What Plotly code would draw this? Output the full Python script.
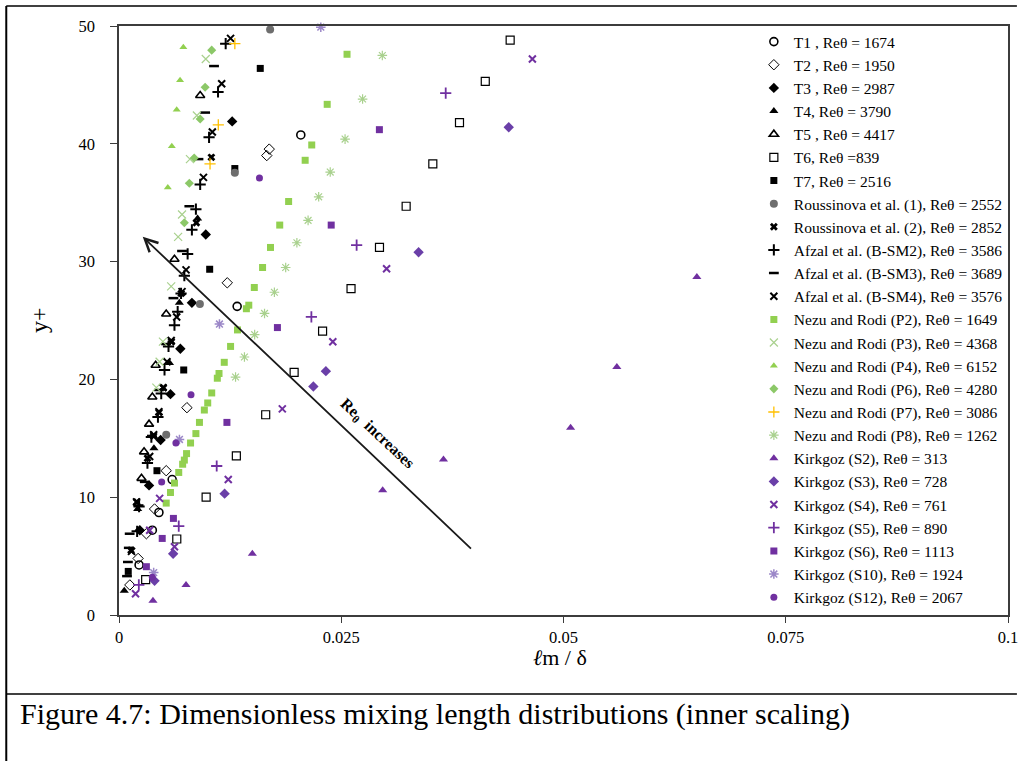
import plotly.graph_objects as go

# ---------------- data ----------------
T1_x = [0.00226, 0.00375, 0.00449, 0.00598, 0.01329, 0.02045]
T1_y = [4.25, 7.2, 8.7, 11.5, 26.2, 40.75]
T2_x = [0.00122, 0.00215, 0.00308, 0.0040, 0.00531, 0.00764, 0.01218, 0.01662, 0.0169]
T2_y = [2.55, 4.8, 6.9, 9.0, 12.25, 17.6, 28.2, 39.0, 39.55]
T3_x = [0.00234, 0.00338, 0.00468, 0.00579, 0.0069, 0.0082, 0.00976, 0.01273]
T3_y = [7.2, 11.0, 14.85, 18.75, 22.6, 26.5, 32.3, 41.9]
T4_x = [0.00059, 0.0021, 0.00393, 0.00568, 0.00679, 0.00884]
T4_y = [2.06, 9.0, 14.15, 21.4, 26.5, 33.65]
T5_x = [0.00253, 0.00282, 0.00338, 0.00375, 0.00412, 0.00531, 0.00624, 0.00913]
T5_y = [11.6, 13.85, 16.2, 18.5, 21.2, 25.55, 30.2, 44.1]
T6_x = [0.0030, 0.0065, 0.0098, 0.0132, 0.0165, 0.0197, 0.0229, 0.0261, 0.0293, 0.0323, 0.0353, 0.0383, 0.0412, 0.0440]
T6_y = [3.0, 6.45, 10.0, 13.5, 17.0, 20.6, 24.1, 27.7, 31.2, 34.7, 38.3, 41.8, 45.3, 48.8]
T7_x = [0.00104, 0.00427, 0.00728, 0.0102, 0.01303, 0.01589]
T7_y = [3.7, 12.25, 20.8, 29.35, 37.9, 46.4]
R1_x = [0.00531, 0.0091, 0.01303, 0.017]
R1_y = [15.3, 26.4, 37.55, 49.7]
R2_x = [0.00136, 0.0020, 0.0032, 0.0039, 0.0045, 0.0050, 0.0059, 0.0070, 0.0087, 0.01039]
R2_y = [5.5, 9.6, 13.3, 15.2, 17.2, 19.3, 23.2, 27.3, 33.3, 38.85]
SM2_x = [0.00204, 0.00226, 0.0032, 0.00364, 0.00438, 0.00475, 0.00512, 0.00557, 0.00624, 0.0066,
         0.00698, 0.00735, 0.00772, 0.0082, 0.00865, 0.00913, 0.01013, 0.01114, 0.012]
SM2_y = [7.1, 9.2, 12.9, 15.1, 16.8, 18.8, 20.8, 22.8, 24.6, 25.75,
         27.3, 28.8, 30.65, 32.7, 34.45, 36.55, 40.55, 44.4, 48.5]
SM3_x = [0.0009, 0.001, 0.0011, 0.0012, 0.0022, 0.0029, 0.0037, 0.0045, 0.0053, 0.00612,
         0.00709, 0.00791, 0.00894, 0.00969, 0.01069]
SM3_y = [3.3, 4.5, 5.7, 6.9, 9.3, 11.3, 15.2, 19.1, 23.0, 26.9, 30.9, 34.7, 38.7, 42.65, 46.6]
SM4_x = [0.00141, 0.00197, 0.00345, 0.0039, 0.00449, 0.00494, 0.0054, 0.00587, 0.00649, 0.00709,
         0.00754, 0.0095, 0.0105, 0.01155, 0.01255]
SM4_y = [5.4, 9.6, 13.45, 15.3, 17.25, 19.3, 21.5, 23.3, 25.3, 27.45, 29.3, 37.15, 41.0, 45.1, 48.95]
P2_x = [0.00531, 0.00579, 0.00624, 0.00672, 0.00716, 0.00735, 0.0076, 0.00805, 0.00865, 0.00905,
        0.0096, 0.00998, 0.01043, 0.01106, 0.01125, 0.01184, 0.01255, 0.01333, 0.01433, 0.0146,
        0.01522, 0.01615, 0.01704, 0.01808, 0.01908, 0.02094, 0.02168, 0.02342, 0.02565]
P2_y = [9.5, 10.4, 11.2, 12.1, 12.8, 13.15, 13.7, 14.6, 15.4, 16.35,
        17.4, 18.0, 18.85, 20.1, 20.5, 21.45, 22.8, 24.2, 26.0, 26.3,
        27.8, 29.5, 31.2, 33.1, 35.1, 38.6, 39.9, 43.35, 47.6]
P3_x = [0.0042, 0.00457, 0.00494, 0.00587, 0.00665, 0.00709, 0.00798, 0.00876, 0.00976]
P3_y = [19.3, 21.5, 23.2, 27.9, 32.1, 34.0, 38.7, 42.4, 47.2]
P4_x = [0.00549, 0.00594, 0.00649, 0.00687, 0.00724]
P4_y = [36.3, 39.8, 42.9, 45.4, 48.2]
P6_x = [0.00735, 0.00791, 0.00846, 0.00913, 0.00969, 0.01043]
P6_y = [33.3, 36.65, 38.8, 42.1, 44.8, 47.95]
P7_x = [0.01024, 0.01117, 0.01303]
P7_y = [38.3, 41.6, 48.5]
P8_x = [0.01311, 0.01411, 0.01526, 0.01637, 0.01748, 0.01875, 0.02001, 0.02127, 0.02246, 0.02376,
        0.02543, 0.0274, 0.02962]
P8_y = [20.2, 21.9, 23.8, 25.6, 27.4, 29.5, 31.6, 33.5, 35.5, 37.6, 40.4, 43.8, 47.5]
S2_x = [0.00382, 0.00754, 0.0150, 0.02966, 0.0365, 0.0508, 0.056, 0.065]
S2_y = [1.2, 2.55, 5.2, 10.6, 13.2, 15.9, 21.05, 28.7]
S3_x = [0.0040, 0.00609, 0.01188, 0.02186, 0.02327, 0.0337, 0.04384]
S3_y = [2.9, 5.2, 10.3, 19.4, 20.7, 30.8, 41.4]
S4_x = [0.00186, 0.00624, 0.00345, 0.00457, 0.01229, 0.01837, 0.02405, 0.0301, 0.0465]
S4_y = [1.8, 5.8, 7.2, 9.9, 11.5, 17.5, 23.2, 29.4, 47.2]
S5_x = [0.00223, 0.00672, 0.01099, 0.02164, 0.02673, 0.03675]
S5_y = [2.55, 7.55, 12.65, 25.3, 31.4, 44.3]
S6_x = [0.00308, 0.00486, 0.00612, 0.01214, 0.01782, 0.02387, 0.02929]
S6_y = [4.1, 6.5, 8.2, 16.35, 24.4, 33.1, 41.2]
S10_x = [0.0039, 0.0068, 0.0113, 0.0227]
S10_y = [3.6, 14.9, 24.7, 49.9]
S12_x = [0.00375, 0.0048, 0.0064, 0.0081, 0.0158]
S12_y = [3.2, 11.3, 14.6, 18.7, 37.1]

x_ticks = [0, 0.025, 0.05, 0.075, 0.1]
x_tick_labels = ["0", "0.025", "0.05", "0.075", "0.1"]
y_ticks = [0, 10, 20, 30, 40, 50]

# ---------------- styling ----------------
BLK = "black"
GRY = "#6e6e6e"
GRN = "#92D050"
LGRN = "#A9D18E"
YEL = "#FFC000"
PUR = "#7030A0"
LPUR = "#9C88C8"
SERIF = "Liberation Serif, Times New Roman, serif"

series = [
    ("T1 , Reθ = 1674", T1_x, T1_y, "circle-open", BLK, 8, 1.6),
    ("T2 , Reθ = 1950", T2_x, T2_y, "diamond-open", BLK, 8, 1.0),
    ("T3 , Reθ = 2987", T3_x, T3_y, "diamond", BLK, 8, 0),
    ("T4, Reθ = 3790", T4_x, T4_y, "triangle-up", BLK, 8, 0),
    ("T5 , Reθ = 4417", T5_x, T5_y, "triangle-up-open", BLK, 8, 1.6),
    ("T6, Reθ =839", T6_x, T6_y, "square-open", BLK, 8, 1.2),
    ("T7, Reθ = 2516", T7_x, T7_y, "square", BLK, 7, 0),
    ("Roussinova et al. (1), Reθ = 2552", R1_x, R1_y, "circle", GRY, 8, 0),
    ("Roussinova et al. (2), Reθ = 2852", R2_x, R2_y, "x", BLK, 7, 0),
    ("Afzal et al. (B-SM2), Reθ = 3586", SM2_x, SM2_y, "cross-thin-open", BLK, 8, 2),
    ("Afzal et al. (B-SM3), Reθ = 3689", SM3_x, SM3_y, "line-ew-open", BLK, 7, 2.5),
    ("Afzal et al. (B-SM4), Reθ = 3576", SM4_x, SM4_y, "x-thin-open", BLK, 7, 2),
    ("Nezu and Rodi (P2), Reθ = 1649", P2_x, P2_y, "square", GRN, 7, 0),
    ("Nezu and Rodi (P3), Reθ = 4368", P3_x, P3_y, "x-thin-open", LGRN, 8, 1.2),
    ("Nezu and Rodi (P4), Reθ = 6152", P4_x, P4_y, "triangle-up", GRN, 7, 0),
    ("Nezu and Rodi (P6), Reθ = 4280", P6_x, P6_y, "diamond", "#8CC868", 7, 0),
    ("Nezu and Rodi (P7), Reθ = 3086", P7_x, P7_y, "cross-thin-open", YEL, 8, 1.3),
    ("Nezu and Rodi (P8), Reθ = 1262", P8_x, P8_y, "asterisk-open", LGRN, 8, 1.2),
    ("Kirkgoz (S2), Reθ = 313", S2_x, S2_y, "triangle-up", PUR, 8, 0),
    ("Kirkgoz (S3), Reθ = 728", S3_x, S3_y, "diamond", "#6A3FA8", 8, 0),
    ("Kirkgoz (S4), Reθ = 761", S4_x, S4_y, "x-thin-open", PUR, 7, 2),
    ("Kirkgoz (S5), Reθ = 890", S5_x, S5_y, "cross-thin-open", PUR, 8, 1.8),
    ("Kirkgoz (S6), Reθ = 1113", S6_x, S6_y, "square", PUR, 7, 0),
    ("Kirkgoz (S10), Reθ = 1924", S10_x, S10_y, "asterisk-open", LPUR, 8, 1.5),
    ("Kirkgoz (S12), Reθ = 2067", S12_x, S12_y, "circle", PUR, 7, 0),
]

fig = go.Figure()
for name, xs, ys, sym, col, size, lw in series:
    marker = dict(symbol=sym, color=col, size=size)
    if lw > 0:
        marker["line"] = dict(color=col, width=lw)
    else:
        marker["line"] = dict(width=0)
    fig.add_trace(go.Scatter(x=xs, y=ys, mode="markers", name=name,
                             marker=marker, cliponaxis=False))

AX = "#3c3c3c"
fig.update_xaxes(range=[0, 0.1], tickvals=x_ticks, ticktext=x_tick_labels,
                 showgrid=False, zeroline=False, showline=True, linecolor=AX, linewidth=1.5,
                 mirror=True, ticks="outside", ticklen=6, tickcolor=AX, tickwidth=1,
                 tickfont=dict(family=SERIF, size=16.5, color="black"), ticklabelstandoff=0)
fig.update_yaxes(range=[0, 50], tickvals=y_ticks,
                 showgrid=False, zeroline=False, showline=True, linecolor=AX, linewidth=1.5,
                 mirror=True, ticks="outside", ticklen=7, tickcolor=AX, tickwidth=1,
                 tickfont=dict(family=SERIF, size=16.5, color="black"), ticklabelstandoff=12)

W, H = 1027, 761
L, R, T, B = 119, 9, 26, 146
pw, ph = W - L - R, H - T - B


def px_x(p):
    return (p - L) / pw


def px_y(p):
    return (H - B - p) / ph


fig.update_layout(
    width=W, height=H,
    margin=dict(l=L, r=R, t=T, b=B, pad=0),
    paper_bgcolor="white", plot_bgcolor="white",
    showlegend=True,
    legend=dict(x=px_x(761), y=px_y(25), xanchor="left", yanchor="top",
                bgcolor="rgba(255,255,255,0)", borderwidth=0, maxheight=720,
                font=dict(family=SERIF, size=15.5, color="black"),
                itemsizing="trace", tracegroupgap=0),
    font=dict(family=SERIF, color="black"),
)

# outer frame lines
fig.add_shape(type="line", xref="paper", yref="paper", x0=px_x(5), x1=px_x(1027),
              y0=px_y(6), y1=px_y(6), line=dict(color="black", width=1.5))
fig.add_shape(type="line", xref="paper", yref="paper", x0=px_x(5), x1=px_x(5),
              y0=px_y(6), y1=px_y(761), line=dict(color="black", width=2))
fig.add_shape(type="line", xref="paper", yref="paper", x0=px_x(5), x1=px_x(1027),
              y0=px_y(694), y1=px_y(694), line=dict(color="black", width=1.5))

# axis titles and caption
fig.add_annotation(xref="paper", yref="paper", x=px_x(38), y=px_y(320), text="y+",
                   xanchor="center", yanchor="middle",
                   showarrow=False, textangle=-90,
                   font=dict(family=SERIF, size=24, color="black"))
fig.add_annotation(xref="paper", yref="paper", x=px_x(565), y=px_y(657),
                   xanchor="center", yanchor="middle",
                   text="<i>ℓ</i>m / δ", showarrow=False,
                   font=dict(family=SERIF, size=22, color="black"))
fig.add_annotation(xref="paper", yref="paper", x=px_x(17), y=px_y(714),
                   xanchor="left", yanchor="middle",
                   text="Figure 4.7: Dimensionless mixing length distributions (inner scaling)",
                   showarrow=False, font=dict(family=SERIF, size=30, color="black"))

# arrow and label
fig.add_annotation(x=0.00267, y=32.1, ax=0.03976, ay=5.52, xref="x", yref="y",
                   axref="x", ayref="y", text="", showarrow=True,
                   arrowhead=5, arrowsize=1.4, arrowwidth=1.8, arrowcolor="#1a1a1a")
fig.add_annotation(x=0.0290, y=15.4, xref="x", yref="y",
                   xanchor="center", yanchor="middle",
                   text="<b>Re<sub>θ</sub>  increases</b>", showarrow=False, textangle=43,
                   font=dict(family=SERIF, size=16, color="black"))

fig.write_html("out.html")
